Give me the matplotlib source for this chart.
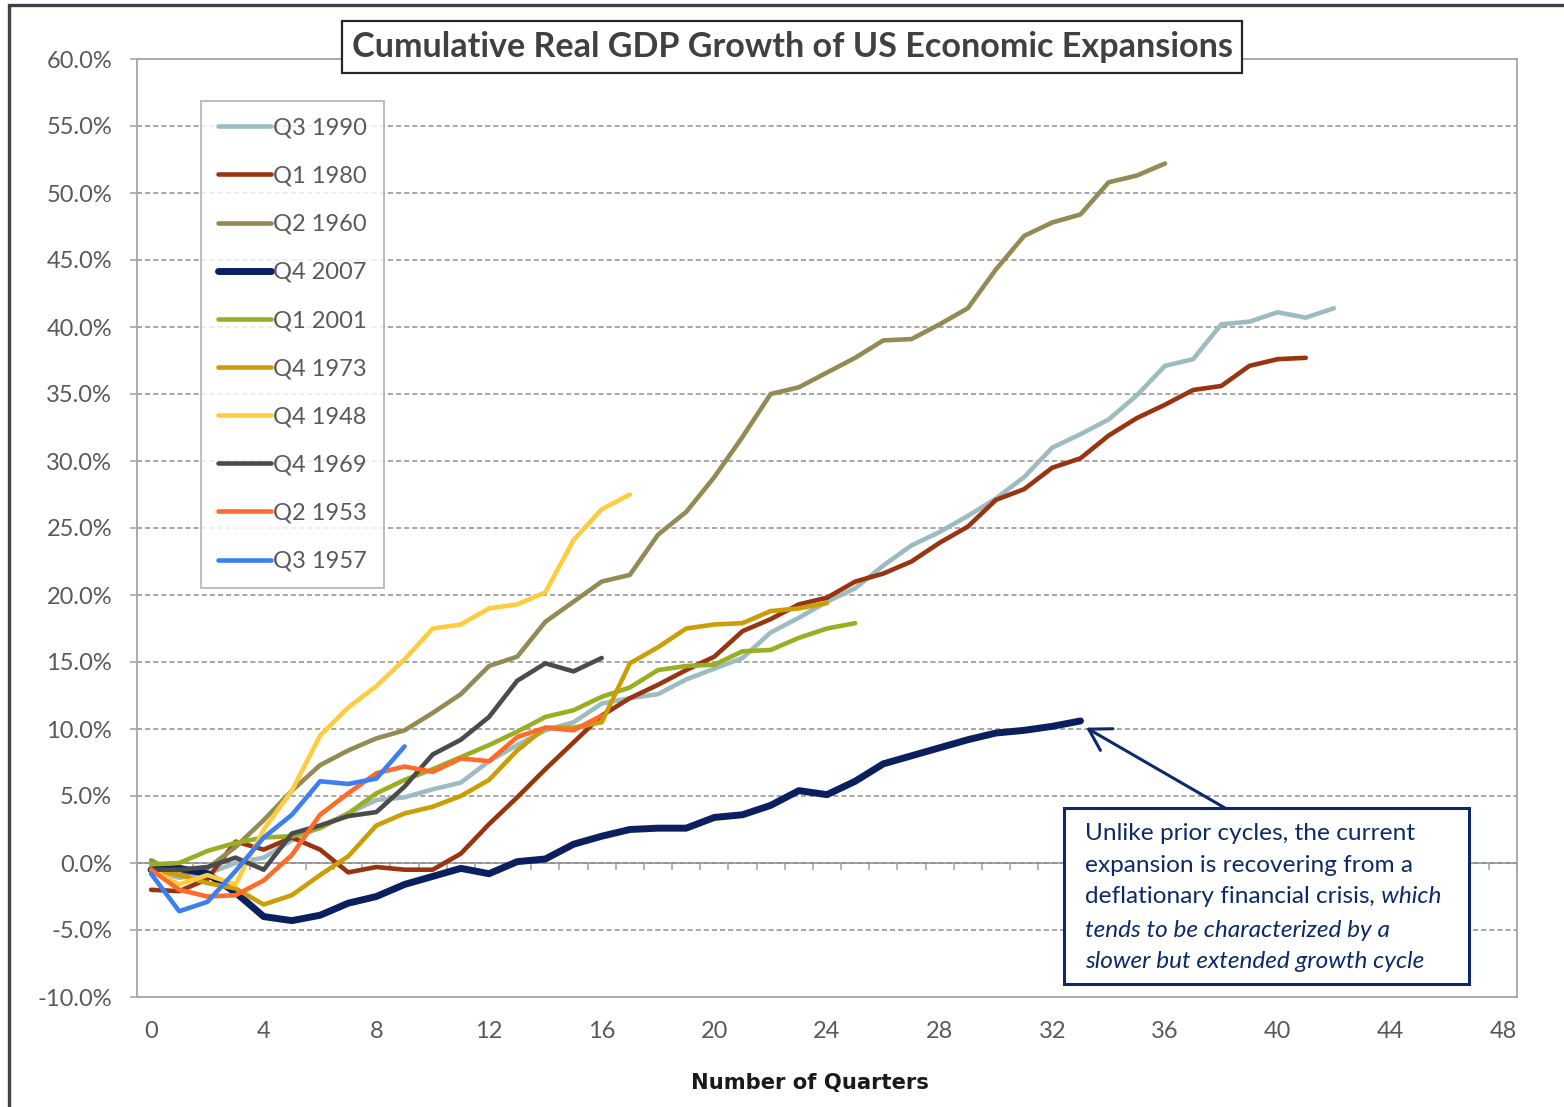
import numpy as np
import matplotlib
matplotlib.use("Agg")
import matplotlib.pyplot as plt
from matplotlib.patches import Rectangle
from matplotlib.text import Annotation

plt.rcParams['font.family'] = ['Lato', 'DejaVu Sans']

# --- data (cumulative real GDP growth, % since start of expansion) ---
q3_1990 = [-0.5, -1.1, -0.8, 0.0, 0.4, 1.7, 2.7, 3.7, 4.7, 4.9, 5.5, 6.0, 7.6, 8.8, 9.9,
           10.5, 11.9, 12.3, 12.6, 13.7, 14.5, 15.3, 17.2, 18.3, 19.5, 20.5, 22.2, 23.7,
           24.7, 25.9, 27.2, 28.8, 31.0, 32.0, 33.1, 34.9, 37.1, 37.6, 40.2, 40.4, 41.1,
           40.7, 41.4]
q1_1980 = [-2.0, -2.1, -1.2, 1.6, 1.0, 1.9, 1.0, -0.7, -0.3, -0.5, -0.5, 0.7, 2.9, 4.9,
           7.0, 9.0, 11.0, 12.3, 13.3, 14.4, 15.4, 17.3, 18.2, 19.3, 19.8, 21.0, 21.6,
           22.5, 23.9, 25.1, 27.1, 27.9, 29.5, 30.2, 31.9, 33.2, 34.2, 35.3, 35.6, 37.1,
           37.6, 37.7]
q2_1960 = [0.2, -0.9, -0.4, 1.2, 3.2, 5.4, 7.3, 8.4, 9.3, 9.9, 11.2, 12.6, 14.7, 15.4,
           18.0, 19.5, 21.0, 21.5, 24.5, 26.2, 28.8, 31.8, 35.0, 35.5, 36.6, 37.7, 39.0,
           39.1, 40.2, 41.4, 44.3, 46.8, 47.8, 48.4, 50.8, 51.3, 52.2]
q4_2007 = [-0.5, -0.4, -0.8, -2.2, -4.0, -4.3, -3.9, -3.0, -2.5, -1.6, -1.0, -0.4, -0.8,
           0.1, 0.3, 1.4, 2.0, 2.5, 2.6, 2.6, 3.4, 3.6, 4.3, 5.4, 5.1, 6.1, 7.4, 8.0, 8.6,
           9.2, 9.7, 9.9, 10.2, 10.6]
q1_2001 = [-0.1, 0.0, 0.9, 1.5, 1.9, 2.0, 2.6, 3.7, 5.2, 6.2, 7.0, 7.9, 8.8, 9.8, 10.9,
           11.4, 12.4, 13.1, 14.4, 14.7, 14.8, 15.8, 15.9, 16.8, 17.5, 17.9]
q4_1973 = [-0.5, -0.9, -1.5, -1.9, -3.1, -2.4, -0.9, 0.5, 2.8, 3.7, 4.2, 5.0, 6.2, 8.4,
           10.1, 10.1, 10.5, 14.9, 16.1, 17.5, 17.8, 17.9, 18.8, 19.0, 19.4]
q4_1948 = [-0.5, -1.6, -0.9, -1.6, 2.5, 5.4, 9.5, 11.6, 13.2, 15.2, 17.5, 17.8, 19.0,
           19.3, 20.2, 24.1, 26.4, 27.5]
q4_1969 = [-0.5, -0.5, -0.3, 0.4, -0.5, 2.2, 2.8, 3.5, 3.8, 5.7, 8.1, 9.2, 10.9, 13.6,
           14.9, 14.3, 15.3]
q2_1953 = [-0.5, -2.0, -2.5, -2.4, -1.3, 0.6, 3.6, 5.2, 6.7, 7.2, 6.8, 7.8, 7.6, 9.4,
           10.1, 9.9, 11.0]
q3_1957 = [-0.8, -3.6, -2.9, -0.6, 1.9, 3.6, 6.1, 5.9, 6.3, 8.7]

labels = ["Q3 1990", "Q1 1980", "Q2 1960", "Q4 2007", "Q1 2001",
          "Q4 1973", "Q4 1948", "Q4 1969", "Q2 1953", "Q3 1957"]
series = [q3_1990, q1_1980, q2_1960, q4_2007, q1_2001,
          q4_1973, q4_1948, q4_1969, q2_1953, q3_1957]
colors = ["#9DBCC2", "#993410", "#948A54", "#0B1F5E", "#9AAE22",
          "#CC9E06", "#FFCC40", "#4B4B4E", "#FF6B28", "#3C7EF4"]

W, H = 1564, 1107
def px(x, y):
    return (x / W, 1 - y / H)

fig = plt.figure(figsize=(W / 100, H / 100), dpi=100)
ax = fig.add_axes([137 / W, 1 - 997 / H, 1380 / W, 938 / H])

for vals, lab, col in zip(series, labels, colors):
    lw = 5.0 if lab == "Q4 2007" else 3.3
    ax.plot(np.arange(len(vals)), vals, color=col, lw=lw, label=lab,
            solid_capstyle='round', solid_joinstyle='round')

ax.set_xlim(-0.5, 48.5)
ax.set_ylim(-10, 60)
ax.set_xticks(np.arange(0, 49, 4))
ax.set_yticks(np.arange(-10, 61, 5))
ax.set_yticklabels([f"{v:.1f}%" for v in np.arange(-10, 61, 5)])
ax.tick_params(axis='x', length=0, pad=17, labelsize=17, labelcolor='#595959')
ax.tick_params(axis='y', length=5, width=1.1, color='#A0A0A0', pad=13,
               labelsize=17, labelcolor='#595959')
ax.grid(axis='y', color='#8E8E8E', lw=1.1, ls=(0, (3.3, 2.0)))
ax.set_axisbelow(True)
for s in ax.spines.values():
    s.set_color('#A6A6A6')
    s.set_linewidth(1.3)

# category axis crossing at 0%
sec = ax.secondary_xaxis(0, transform=ax.transData)
sec.set_xticks(np.arange(-0.5, 48.6, 1))
sec.tick_params(axis='x', length=5, width=1.1, color='#A0A0A0',
                labelbottom=False, labeltop=False)
sec.spines['bottom'].set_color('#A0A0A0')
sec.spines['bottom'].set_linewidth(1.3)

leg = ax.legend(loc='upper left', bbox_to_anchor=px(201, 101),
                bbox_transform=fig.transFigure, borderaxespad=0,
                fontsize=17, frameon=True, fancybox=False, edgecolor='#A6A6A6',
                handlelength=2.25, handletextpad=0.12, labelspacing=1.15,
                borderpad=0.7, labelcolor='#595959')
leg.get_frame().set_linewidth(1.3)

# title in a box
fig.text(*px(792, 47), "Cumulative Real GDP Growth of US Economic Expansions",
         ha='center', va='center', fontsize=24.6, fontweight='bold', color='#404040',
         bbox=dict(boxstyle='square,pad=0.28', fc='white', ec='#262626', lw=1.6))

fig.text(*px(810, 1083), "Number of Quarters", ha='center', va='center',
         fontsize=15.2, fontweight='bold', color='#1A1A1A', family='DejaVu Sans')

# outer chart border
fig.add_artist(Rectangle(px(9, 1200), 1.2, (1200 - 5) / H, transform=fig.transFigure,
                         fill=False, ec='#404048', lw=2.4, clip_on=False))

# annotation box
navy = '#0C2A6A'
fig.add_artist(Rectangle(px(1064, 984), (1469 - 1064) / W, (984 - 808) / H,
                         transform=fig.transFigure, fc='white', ec=navy, lw=2.2))
ax.annotate('', xy=(33.2, 10.1), xycoords='data', xytext=px(1225, 808),
            textcoords='figure fraction', annotation_clip=False,
            arrowprops=dict(arrowstyle='->,head_length=0.75,head_width=0.45',
                            mutation_scale=20, color=navy, lw=2.2,
                            shrinkA=0, shrinkB=0))

fs_note = 17.6
tkw = dict(fontsize=fs_note, color=navy, va='baseline', ha='left', zorder=5)
fig.text(*px(1085, 840), "Unlike prior cycles, the current", **tkw)
fig.text(*px(1085, 872), "expansion is recovering from a", **tkw)
t3 = fig.text(*px(1085, 903), "deflationary financial crisis", **tkw)
t3b = Annotation(", which", xy=(1, 0), xycoords=t3, va='bottom', ha='left',
                 fontsize=fs_note, color=navy, style='italic', annotation_clip=False)
t3b.set_zorder(5)
fig.add_artist(t3b)
fig.text(*px(1085, 937), "tends to be characterized by a", style='italic', **tkw)
fig.text(*px(1085, 968), "slower but extended growth cycle", style='italic', **tkw)

fig.savefig('out.png', dpi=100)
